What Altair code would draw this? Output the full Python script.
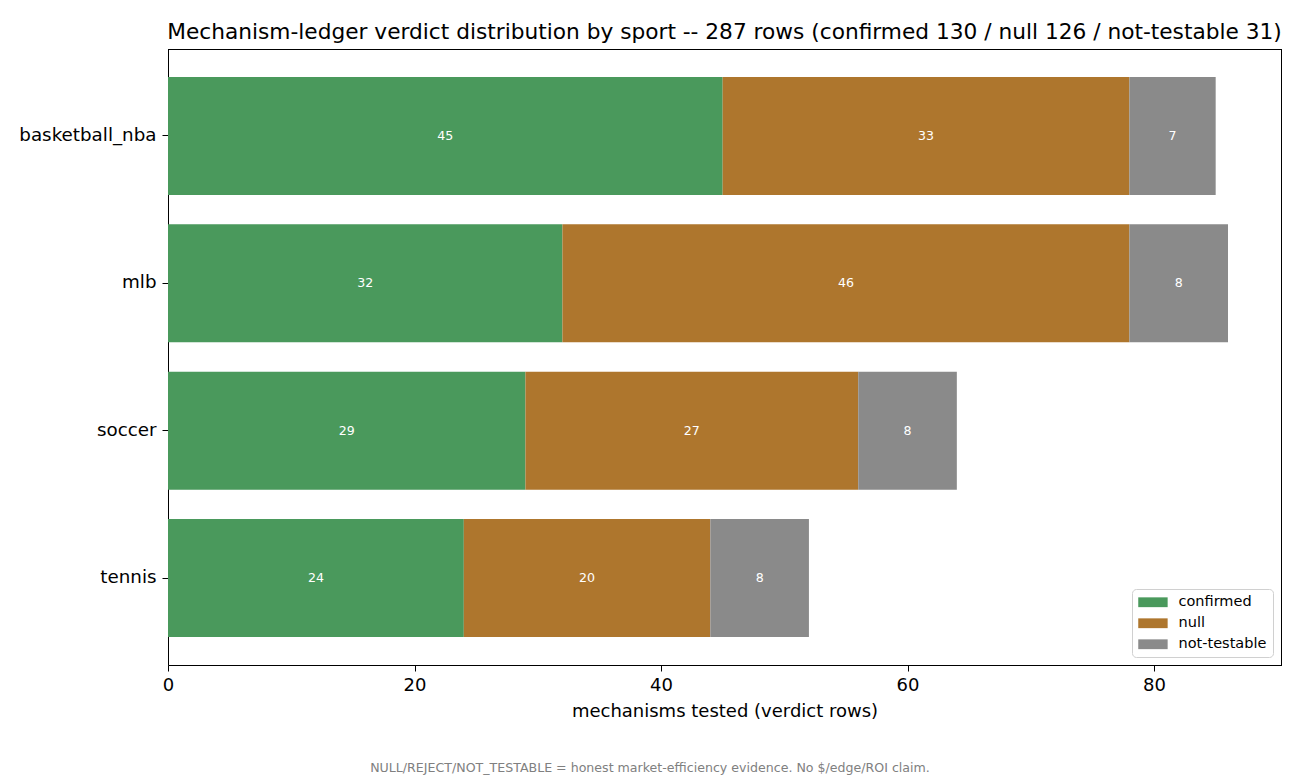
import altair as alt
import pandas as pd

sports = ["basketball_nba", "mlb", "soccer", "tennis"]
verdicts = ["confirmed", "null", "not-testable"]
confirmed = [45, 32, 29, 24]
null = [33, 46, 27, 20]
not_testable = [7, 8, 8, 8]
colors = ["#4a995c", "#ae762d", "#8a8a8a"]

rows = []
for i, s in enumerate(sports):
    vals = [confirmed[i], null[i], not_testable[i]]
    start = 0
    for j, v in enumerate(verdicts):
        rows.append({"sport": s, "verdict": v, "order": j, "count": vals[j],
                     "x0": start, "x1": start + vals[j], "mid": start + vals[j] / 2})
        start += vals[j]
df = pd.DataFrame(rows)

FONT = "DejaVu Sans"
W, H = 1113, 616

yscale = alt.Scale(domain=sports, paddingInner=0.2, paddingOuter=0.19)
xscale = alt.Scale(domain=[0, 90.3], nice=False, zero=True)

bars = alt.Chart(df).mark_bar(cornerRadius=0).encode(
    y=alt.Y("sport:N", scale=yscale, sort=sports,
            axis=alt.Axis(title=None, labelFontSize=18.3, labelFont=FONT, labelColor="black",
                          tickColor="black", domainColor="black", tickSize=6, labelPadding=6)),
    x=alt.X("x0:Q", scale=xscale,
            axis=alt.Axis(title="mechanisms tested (verdict rows)", values=[0, 20, 40, 60, 80],
                          labelFontSize=18, labelFont=FONT, labelColor="black", format="d",
                          labelFlush=False,
                          titleFontSize=18, titleFont=FONT, titleFontWeight="normal",
                          titleColor="black", titlePadding=8, grid=False,
                          tickColor="black", domainColor="black", tickSize=6, labelPadding=5)),
    x2="x1:Q",
    color=alt.Color("verdict:N", scale=alt.Scale(domain=verdicts, range=colors),
                    legend=alt.Legend(title=None, orient="bottom-right", offset=8,
                                      labelFont=FONT, labelFontSize=14.5, labelColor="black",
                                      symbolType="M-1,-0.7H3.2V0.7H-1Z", symbolSize=196,
                                      symbolStrokeWidth=0, symbolOpacity=1,
                                      strokeColor="#d0d0d0", fillColor="white", cornerRadius=4,
                                      padding=6, rowPadding=6, labelOffset=26)),
    order="order:Q",
)

labels = alt.Chart(df).mark_text(color="white", fontSize=12.6, font=FONT,
                                 baseline="middle", align="center").encode(
    y=alt.Y("sport:N", scale=yscale, sort=sports),
    x=alt.X("mid:Q", scale=xscale),
    text="count:Q",
)

frame_df = pd.DataFrame({"k": [0]})
top_rule = alt.Chart(frame_df).mark_rule(color="black", strokeWidth=1).encode(
    x=alt.value(0), x2=alt.value(W + 1), y=alt.value(0.5))
right_rule = alt.Chart(frame_df).mark_rule(color="black", strokeWidth=1).encode(
    x=alt.value(W + 0.5), y=alt.value(0), y2=alt.value(H + 1))

footer = alt.Chart(pd.DataFrame({"t": ["NULL/REJECT/NOT_TESTABLE = honest market-efficiency evidence. No $/edge/ROI claim."]})).mark_text(
    color="#808080", fontSize=12.6, font=FONT, align="center", baseline="alphabetic"
).encode(text="t:N", x=alt.value(482), y=alt.value(723))

chart = alt.layer(bars, labels, top_rule, right_rule, footer).properties(
    width=W, height=H,
    title=alt.Title("Mechanism-ledger verdict distribution by sport -- 287 rows (confirmed 130 / null 126 / not-testable 31)",
                    font=FONT, fontSize=21.7, fontWeight="normal", color="black", anchor="middle", offset=5),
    autosize=alt.AutoSizeParams(type="none"),
    padding={"left": 160, "top": 41, "right": 11, "bottom": 110},
).configure_view(stroke=None).configure(background="white")

chart.save("out.html", embed_options={"renderer": "svg", "actions": False})
